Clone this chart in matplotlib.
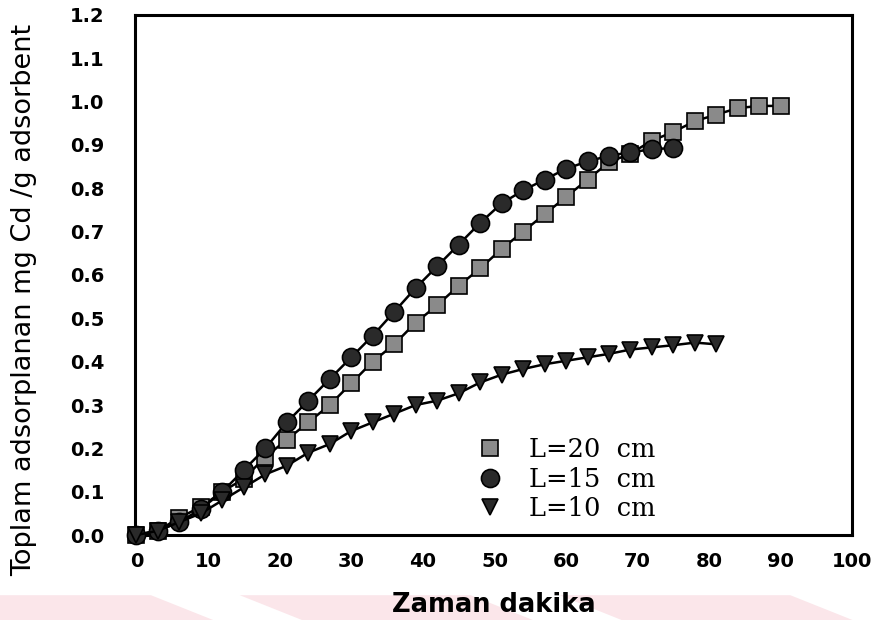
import matplotlib.pyplot as plt
from matplotlib.patches import Polygon
plt.switch_backend('Agg')

# time (min) and cumulative adsorbed amount (mg Cd / g adsorbent)
t_20 = [0, 3, 6, 9, 12, 15, 18, 21, 24, 27, 30, 33, 36, 39, 42, 45,
        48, 51, 54, 57, 60, 63, 66, 69, 72, 75, 78, 81, 84, 87, 90]
q_20 = [0.0, 0.01, 0.04, 0.065, 0.10, 0.13, 0.18, 0.22, 0.26, 0.30, 0.35,
        0.40, 0.44, 0.49, 0.53, 0.575, 0.615, 0.66, 0.70, 0.74, 0.78, 0.82,
        0.86, 0.88, 0.91, 0.93, 0.955, 0.97, 0.985, 0.99, 0.99]

t_15 = [0, 3, 6, 9, 12, 15, 18, 21, 24, 27, 30, 33, 36, 39, 42, 45,
        48, 51, 54, 57, 60, 63, 66, 69, 72, 75]
q_15 = [0.0, 0.01, 0.03, 0.06, 0.10, 0.15, 0.20, 0.26, 0.31, 0.36, 0.41,
        0.46, 0.515, 0.57, 0.62, 0.67, 0.72, 0.765, 0.795, 0.82, 0.845,
        0.862, 0.875, 0.883, 0.89, 0.893]

t_10 = [0, 3, 6, 9, 12, 15, 18, 21, 24, 27, 30, 33, 36, 39, 42, 45,
        48, 51, 54, 57, 60, 63, 66, 69, 72, 75, 78, 81]
q_10 = [0.0, 0.01, 0.03, 0.05, 0.08, 0.11, 0.14, 0.16, 0.19, 0.21, 0.24,
        0.26, 0.28, 0.30, 0.31, 0.327, 0.352, 0.37, 0.383, 0.394, 0.402,
        0.41, 0.418, 0.428, 0.433, 0.438, 0.444, 0.44]

labels = ['L=20  cm', 'L=15  cm', 'L=10  cm']
x_ticks = list(range(0, 101, 10))
y_ticks = [i / 10 for i in range(13)]

fig = plt.figure(figsize=(8.88, 6.2), dpi=100)
ax = fig.add_axes([0.152, 0.137, 0.808, 0.839])

# faint watermark bands at the bottom of the page
bands = [(0.0, 0.17), (0.34, 0.53), (0.70, 0.89)]
for x0, x1 in bands:
    fig.patches.append(Polygon(
        [(x0, 0.0), (x1 + 0.07, 0.0), (x1, 0.04), (x0 - 0.07, 0.04)],
        closed=True, transform=fig.transFigure,
        facecolor='#fbe6ea', edgecolor='none', zorder=-5))

ax.plot(t_20, q_20, '-', color='k', lw=1.8, marker='s', ms=11,
        mfc='#8a8a8a', mec='k', mew=1.2, label=labels[0], clip_on=False, zorder=3)
ax.plot(t_15, q_15, '-', color='k', lw=1.8, marker='o', ms=13,
        mfc='#2a2a2a', mec='k', mew=1.2, label=labels[1], clip_on=False, zorder=3)
ax.plot(t_10, q_10, '-', color='k', lw=1.8, marker='v', ms=12,
        mfc='#2a2a2a', mec='k', mew=1.2, label=labels[2], clip_on=False, zorder=3)

ax.set_xlim(-0.2, 100)
ax.set_ylim(0, 1.2)
ax.set_xticks(x_ticks)
ax.set_yticks(y_ticks)
ax.set_yticklabels(['{:.1f}'.format(v) for v in y_ticks])
ax.tick_params(length=0, labelsize=14)
ax.tick_params(axis='y', pad=22)
ax.tick_params(axis='x', pad=12)
for lab in ax.get_xticklabels() + ax.get_yticklabels():
    lab.set_fontweight('bold')
for s in ax.spines.values():
    s.set_linewidth(2.2)

ax.set_xlabel('Zaman dakika', fontsize=18.5, fontweight='bold', labelpad=15)
ax.set_ylabel('Toplam adsorplanan mg Cd /g adsorbent', fontsize=19.5)
ax.yaxis.set_label_coords(-0.137, 0.452)

leg = ax.legend(loc='lower left', bbox_to_anchor=(0.445, -0.018), frameon=False,
                handlelength=1.0, handletextpad=1.0, labelspacing=0.18,
                prop={'family': 'DejaVu Serif', 'size': 18.5})
for h in leg.legend_handles:
    h.set_linestyle('none')

plt.savefig('out.png', dpi=100)
